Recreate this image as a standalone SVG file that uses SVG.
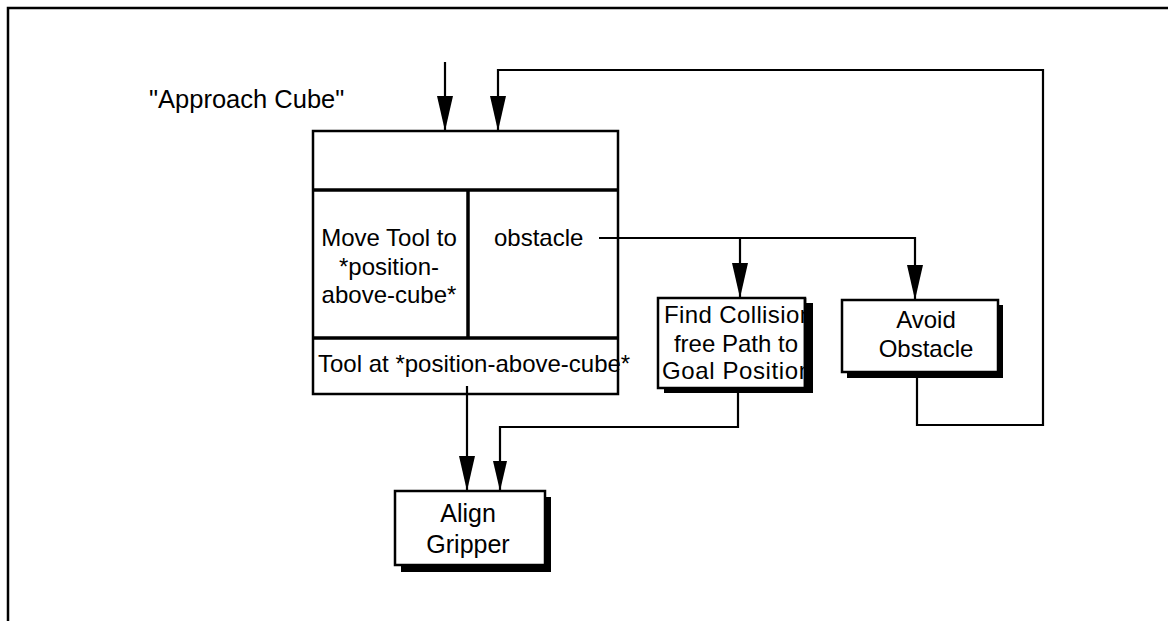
<svg xmlns="http://www.w3.org/2000/svg" width="1168" height="621" viewBox="0 0 1168 621">
  <style>
    text { font-family: "Liberation Sans", Arial, sans-serif; font-size: 24px; fill: #000; }
    .c { text-anchor: middle; }
    .line { fill: none; stroke: #000; stroke-width: 2.2; }
    .box { fill: #fff; stroke: #000; stroke-width: 2.5; }
    .div { fill: none; stroke: #000; stroke-width: 3.5; }
    .shadow { fill: #000; }
  </style>
  <defs>
    <marker id="ah" markerUnits="userSpaceOnUse" markerWidth="36" markerHeight="18" refX="35" refY="8" orient="auto">
      <path d="M0,0 L35,8 L0,16 Z" fill="#000"/>
    </marker>
    <marker id="ahs" markerUnits="userSpaceOnUse" markerWidth="32" markerHeight="16" refX="30" refY="7" orient="auto">
      <path d="M0,0 L30,7 L0,14 Z" fill="#000"/>
    </marker>
    <clipPath id="findclip">
      <rect x="658" y="290" width="147" height="100"/>
    </clipPath>
  </defs>
  <rect width="1168" height="621" fill="#fff"/>
  <g id="frame">
    <path d="M8,621 L8,8 L1168,8" fill="none" stroke="#000" stroke-width="2.5"/>
  </g>
  <g id="title">
    <text x="149" y="108" style="font-size:25.5px">"Approach Cube"</text>
  </g>
  <g id="approach-cube">
    <rect class="box" x="313" y="131" width="305" height="263"/>
    <line class="div" x1="313" y1="190" x2="618" y2="190"/>
    <line class="div" x1="313" y1="338" x2="618" y2="338"/>
    <line class="div" x1="468" y1="190" x2="468" y2="338"/>
    <text class="c" x="389" y="246">Move Tool to</text>
    <text class="c" x="389" y="275">*position-</text>
    <text class="c" x="389" y="303">above-cube*</text>
    <text x="494" y="246">obstacle</text>
    <text x="318" y="372">Tool at *position-above-cube*</text>
  </g>
  <g id="find-path">
    <rect class="shadow" x="664" y="303" width="149" height="90"/>
    <rect class="box" x="658" y="298" width="147" height="90"/>
    <g clip-path="url(#findclip)">
      <text x="664" y="323" textLength="149" lengthAdjust="spacing">Find Collision</text>
      <text class="c" x="736" y="352">free Path to</text>
      <text x="662" y="379" textLength="150" lengthAdjust="spacing">Goal Position</text>
    </g>
    <line x1="805" y1="298" x2="805" y2="388" stroke="#000" stroke-width="2.5"/>
  </g>
  <g id="avoid-obstacle">
    <rect class="shadow" x="847" y="305" width="156" height="73"/>
    <rect class="box" x="842" y="300" width="156" height="72"/>
    <text class="c" x="926" y="328">Avoid</text>
    <text class="c" x="926" y="357">Obstacle</text>
  </g>
  <g id="align-gripper">
    <rect class="shadow" x="401" y="497" width="150" height="75"/>
    <rect class="box" x="395" y="491" width="150" height="74"/>
    <text class="c" x="468" y="522" style="font-size:25px">Align</text>
    <text class="c" x="468" y="553" style="font-size:25px">Gripper</text>
  </g>
  <g id="connectors">
    <path class="line" d="M445,62 L445,131" marker-end="url(#ah)"/>
    <path class="line" d="M917,378 L917,425 L1043,425 L1043,70 L498,70 L498,131" marker-end="url(#ah)"/>
    <path class="line" d="M599,238 L915,238 L915,300" marker-end="url(#ah)"/>
    <path class="line" d="M740,238 L740,298" marker-end="url(#ah)"/>
    <path class="line" d="M467,386 L467,491" marker-end="url(#ah)"/>
    <path class="line" d="M738,393 L738,427 L500,427 L500,491" marker-end="url(#ahs)"/>
  </g>
</svg>
